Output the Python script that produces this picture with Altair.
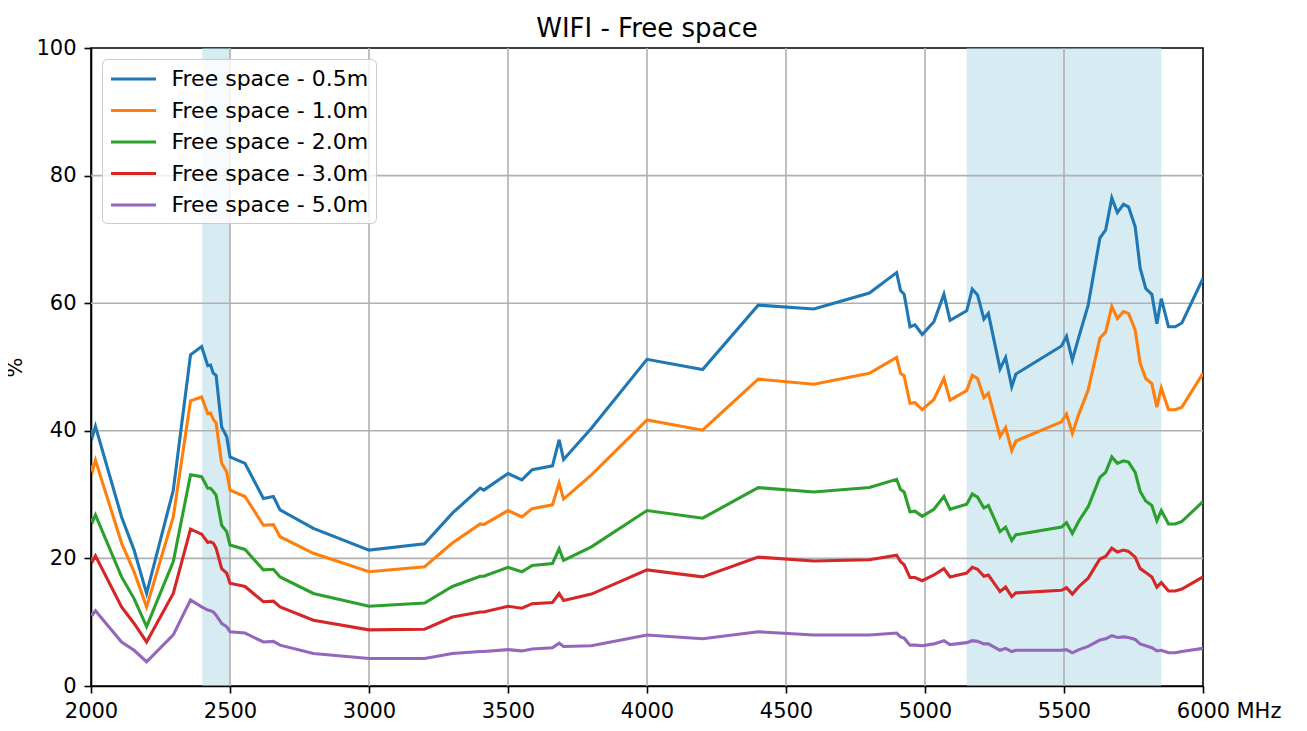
import altair as alt
import pandas as pd

freq = [2000, 2006, 2016, 2110, 2155, 2200, 2296, 2358, 2398, 2420, 2430, 2440, 2450, 2470, 2488, 2500,
        2554, 2620, 2656, 2680, 2800, 3000, 3200, 3300, 3400, 3413, 3500, 3550, 3587, 3660, 3684, 3700,
        3800, 4000, 4200, 4400, 4600, 4800, 4898, 4912, 4925, 4946, 4964, 4990, 5032, 5068, 5090,
        5150, 5170, 5189, 5212, 5228, 5270, 5290, 5312, 5327, 5491, 5509, 5530, 5554, 5587, 5629,
        5650, 5672, 5692, 5714, 5732, 5756, 5774, 5794, 5816, 5834, 5850, 5876, 5900, 5924, 6000]

fs_05 = [40.2, 39.2, 40.7, 26.5, 21.3, 14.5, 30.7, 51.9, 53.2, 50.2, 50.3, 49.0, 48.7, 40.6, 39.1, 35.9,
         34.9, 29.4, 29.7, 27.6, 24.7, 21.3, 22.3, 27.1, 31.0, 30.7, 33.3, 32.3, 33.9, 34.5, 38.6, 35.5,
         40.4, 51.2, 49.6, 59.7, 59.1, 61.6, 64.8, 62.0, 61.4, 56.3, 56.6, 55.1, 57.1, 61.4, 57.3,
         58.8, 62.2, 61.3, 57.5, 58.4, 49.7, 51.5, 46.9, 48.9, 53.3, 54.8, 51.1, 54.8, 59.7, 70.2,
         71.5, 76.5, 74.2, 75.5, 75.1, 72.0, 65.5, 62.3, 61.4, 56.8, 60.7, 56.3, 56.3, 56.9, 63.9]

fs_10 = [34.6, 33.8, 35.4, 22.4, 17.9, 12.4, 26.5, 44.7, 45.3, 42.7, 42.8, 41.8, 41.2, 34.9, 33.6, 30.7,
         29.7, 25.2, 25.3, 23.4, 20.8, 17.9, 18.7, 22.4, 25.4, 25.3, 27.5, 26.5, 27.8, 28.4, 31.8, 29.3,
         33.1, 41.7, 40.1, 48.1, 47.3, 49.0, 51.5, 49.0, 48.6, 44.3, 44.4, 43.3, 44.9, 48.2, 44.8,
         46.3, 48.7, 48.2, 45.2, 45.9, 39.1, 40.5, 36.9, 38.4, 41.4, 42.6, 39.6, 42.7, 46.4, 54.5,
         55.5, 59.5, 57.6, 58.7, 58.4, 55.8, 50.6, 48.2, 47.4, 43.7, 46.7, 43.3, 43.3, 43.7, 49.0]

fs_20 = [26.3, 25.8, 26.8, 17.1, 13.7, 9.3, 19.5, 33.1, 32.8, 31.0, 31.0, 30.5, 29.9, 25.2, 24.2, 22.1,
         21.4, 18.2, 18.3, 17.1, 14.5, 12.5, 13.0, 15.6, 17.2, 17.2, 18.6, 17.9, 18.9, 19.2, 21.5, 19.7,
         21.8, 27.5, 26.3, 31.1, 30.4, 31.1, 32.4, 30.8, 30.4, 27.3, 27.4, 26.6, 27.7, 29.7, 27.7,
         28.5, 30.1, 29.6, 27.9, 28.3, 24.2, 24.9, 22.8, 23.7, 24.9, 25.6, 23.9, 25.9, 28.1, 32.7,
         33.5, 35.9, 34.9, 35.3, 35.1, 33.5, 30.5, 29.0, 28.3, 25.9, 27.5, 25.4, 25.4, 25.8, 28.9]

fs_30 = [20.0, 19.6, 20.4, 12.4, 9.8, 6.9, 14.5, 24.6, 23.8, 22.5, 22.6, 22.4, 21.6, 18.4, 17.7, 16.1,
         15.6, 13.2, 13.3, 12.4, 10.3, 8.8, 8.9, 10.8, 11.6, 11.6, 12.5, 12.2, 12.9, 13.1, 14.5, 13.4,
         14.4, 18.2, 17.1, 20.2, 19.6, 19.8, 20.5, 19.5, 19.0, 17.0, 17.0, 16.5, 17.4, 18.4, 17.1,
         17.7, 18.6, 18.3, 17.2, 17.4, 14.8, 15.5, 14.0, 14.6, 15.0, 15.4, 14.4, 15.6, 16.9, 19.9,
         20.3, 21.6, 21.0, 21.3, 21.1, 20.2, 18.4, 17.8, 17.1, 15.5, 16.2, 14.9, 14.9, 15.2, 17.1]

fs_50 = [11.4, 11.2, 11.8, 6.9, 5.6, 3.8, 8.0, 13.5, 12.4, 11.9, 11.8, 11.6, 11.1, 9.8, 9.3, 8.5,
         8.3, 6.9, 7.0, 6.4, 5.1, 4.3, 4.3, 5.1, 5.4, 5.4, 5.7, 5.5, 5.8, 6.0, 6.7, 6.2,
         6.3, 8.0, 7.4, 8.5, 8.0, 8.0, 8.3, 7.7, 7.5, 6.4, 6.4, 6.3, 6.6, 7.1, 6.5,
         6.8, 7.1, 7.0, 6.6, 6.6, 5.6, 5.9, 5.4, 5.6, 5.6, 5.7, 5.2, 5.7, 6.2, 7.2,
         7.4, 7.9, 7.6, 7.7, 7.6, 7.3, 6.6, 6.3, 6.0, 5.5, 5.6, 5.2, 5.2, 5.4, 5.9]

series_names = ["Free space - 0.5m", "Free space - 1.0m", "Free space - 2.0m",
                "Free space - 3.0m", "Free space - 5.0m"]
series_colors = ["#1f77b4", "#ff7f0e", "#2ca02c", "#d62728", "#9467bd"]

band_start = [2400, 5150]
band_end = [2500, 5850]

x_ticks = [2000, 2500, 3000, 3500, 4000, 4500, 5000, 5500, 6000]
y_ticks = [0, 20, 40, 60, 80, 100]

rows = []
for name, vals in zip(series_names, [fs_05, fs_10, fs_20, fs_30, fs_50]):
    for f, v in zip(freq, vals):
        rows.append({"freq": f, "value": v, "series": name})
df = pd.DataFrame(rows)
bands = pd.DataFrame({"start": band_start, "end": band_end})
# inner grid lines only (the frame is drawn by the view stroke / axis domain)
xgrid = pd.DataFrame({"g": x_ticks[1:-1]})
ygrid = pd.DataFrame({"g": y_ticks[1:-1]})

FONT = "DejaVu Sans"
xscale = alt.Scale(domain=[2000, 6000], nice=False, zero=False)
yscale = alt.Scale(domain=[0, 100], nice=False)

xaxis = alt.Axis(values=x_ticks, format="d", grid=False, title="MHz",
                 titleX=1145, titleY=31, titleAlign="left",
                 titleBaseline="alphabetic", titleFontWeight="normal",
                 titleFontSize=21, labelFlush=False, labelPadding=7)
yaxis = alt.Axis(values=y_ticks, grid=False, title="%",
                 titleAngle=-90, titleX=-76, titleY=319,
                 titleAlign="center", titleBaseline="middle",
                 titleFontWeight="normal", titleFontSize=21,
                 labelPadding=8)

band_layer = alt.Chart(bands).mark_rect(color="#add8e6", opacity=0.5).encode(
    x=alt.X("start:Q", scale=xscale, axis=xaxis),
    x2="end:Q",
)

vgrid = alt.Chart(xgrid).mark_rule(color="#b0b0b0", strokeWidth=1.6).encode(
    x=alt.X("g:Q", scale=xscale, axis=xaxis)
)
hgrid = alt.Chart(ygrid).mark_rule(color="#b0b0b0", strokeWidth=1.6).encode(
    y=alt.Y("g:Q", scale=yscale, axis=yaxis)
)

lines = alt.Chart(df).mark_line(strokeWidth=3.1, clip=True).encode(
    x=alt.X("freq:Q", scale=xscale, axis=xaxis),
    y=alt.Y("value:Q", scale=yscale, axis=yaxis),
    color=alt.Color("series:N",
                    scale=alt.Scale(domain=series_names, range=series_colors),
                    sort=series_names,
                    legend=alt.Legend(title=None, orient="none", legendX=11, legendY=11,
                                      direction="vertical",
                                      symbolType="M-2,0H2", symbolSize=506,
                                      symbolOffset=11.5,
                                      symbolStrokeWidth=3.1, labelFontSize=22,
                                      labelFont=FONT, labelOffset=25, labelLimit=400,
                                      labelColor="black",
                                      rowPadding=7.5,
                                      fillColor="rgba(255,255,255,0.8)",
                                      strokeColor="#cccccc", cornerRadius=5,
                                      padding=7)),
    order="freq:Q",
)

chart = alt.layer(band_layer, vgrid, hgrid, lines).properties(
    width=1112, height=638,
    autosize=alt.AutoSizeParams(type="none"),
    padding={"left": 83, "top": 40, "right": 96, "bottom": 37},
    title=alt.TitleParams("WIFI - Free space", fontSize=26, font=FONT,
                          fontWeight="normal", anchor="middle", baseline="bottom",
                          frame="group", offset=7, dy=38, color="black"),
).configure_view(stroke="black", strokeWidth=1.6).configure_axis(
    domainColor="black", domainWidth=1.6, tickColor="black", tickWidth=1.6,
    tickSize=7, labelFontSize=21, labelFont=FONT, titleFont=FONT,
    labelColor="black", titleColor="black"
)

chart.save("out.html", embed_options={"renderer": "svg", "actions": False})
